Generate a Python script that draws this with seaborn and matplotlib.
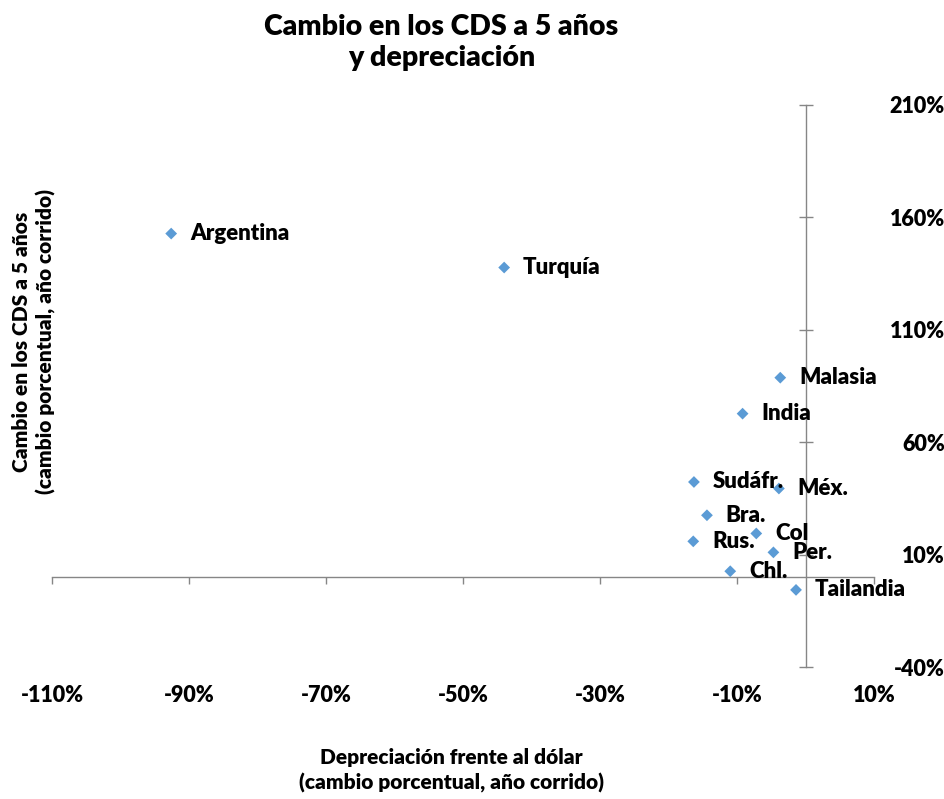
import matplotlib
matplotlib.use("Agg")
import matplotlib.pyplot as plt
import seaborn as sns
import pandas as pd
from matplotlib.ticker import FuncFormatter, FixedLocator

# Data (percent)
countries = ["Argentina", "Turquía", "Malasia", "India", "Sudáfr.", "Méx.",
             "Bra.", "Col", "Rus.", "Per.", "Chl.", "Tailandia"]
depreciation = [-92.6, -44.0, -3.7, -9.2, -16.3, -3.9, -14.4, -7.2, -16.4, -4.7, -11.0, -1.4]
cds_change = [152.8, 137.7, 88.7, 72.7, 42.3, 39.4, 27.5, 19.4, 15.9, 11.0, 2.6, -5.7]
x_ticks = [-110, -90, -70, -50, -30, -10, 10]
y_ticks = [-40, 10, 60, 110, 160, 210]

df = pd.DataFrame({"pais": countries, "dep": depreciation, "cds": cds_change})

sns.set_theme(style="white")
plt.rcParams["font.family"] = ["Lato", "DejaVu Sans"]
plt.rcParams["font.weight"] = "bold"
for k in ["text.color", "axes.labelcolor", "xtick.color", "ytick.color"]:
    plt.rcParams[k] = "black"

W = "heavy"

fig = plt.figure(figsize=(9.45, 7.99), dpi=100)
ax = fig.add_axes([0.055, 0.1652, 0.870, 0.7034])

sns.scatterplot(data=df, x="dep", y="cds", ax=ax, marker="D", s=36,
                color="#5B9BD5", edgecolor="none", zorder=3)

for name, x, y in zip(countries, depreciation, cds_change):
    ax.annotate(name, (x, y), xytext=(13.5, 0), textcoords="offset points",
                va="center", ha="left", fontsize=16, fontweight=W, color="black")

ax.set_xlim(-110, 10)
ax.set_ylim(-40, 210)
ax.set_xlabel("")
ax.set_ylabel("")

axis_color = "#868686"
for s in ["top", "right"]:
    ax.spines[s].set_visible(False)
ax.spines["left"].set_position(("data", 0))
ax.spines["bottom"].set_position(("data", 0))
ax.spines["left"].set_color(axis_color)
ax.spines["bottom"].set_color(axis_color)
ax.spines["left"].set_linewidth(1.0)
ax.spines["bottom"].set_linewidth(1.0)

ax.xaxis.set_major_locator(FixedLocator(x_ticks))
ax.yaxis.set_major_locator(FixedLocator(y_ticks))
pct = FuncFormatter(lambda v, p: f"{v:.0f}%")
ax.yaxis.set_major_formatter(pct)

ax.tick_params(axis="x", which="both", bottom=True, top=False, labelbottom=False,
               direction="out", length=5, width=1, color=axis_color)
ax.tick_params(axis="y", which="both", left=True, right=False, labelleft=False,
               labelright=True, direction="inout", length=10, width=1,
               color=axis_color, labelsize=15.5, pad=46, labelcolor="black")
for lab in ax.get_yticklabels():
    lab.set_ha("right")
    lab.set_fontweight(W)

sec = ax.secondary_xaxis("bottom")
sec.xaxis.set_major_locator(FixedLocator(x_ticks))
sec.xaxis.set_major_formatter(pct)
sec.tick_params(axis="x", length=0, pad=13, labelsize=15.5, labelcolor="black")
sec.spines["bottom"].set_visible(False)
for lab in sec.get_xticklabels():
    lab.set_fontweight(W)

ax.grid(False)

fig.text(0.467, 0.947, "Cambio en los CDS a 5 años\ny depreciación", ha="center",
         va="center", fontsize=20.5, fontweight=W, linespacing=1.25)
fig.text(0.478, 0.036, "Depreciación frente al dólar\n(cambio porcentual, año corrido)",
         ha="center", va="center", fontsize=15, fontweight=W, linespacing=1.35)
fig.text(0.0355, 0.572, "Cambio en los CDS a 5 años\n(cambio porcentual, año corrido)",
         ha="center", va="center", rotation=90, fontsize=15, fontweight=W,
         linespacing=1.3)

fig.savefig("out.png", dpi=100)
